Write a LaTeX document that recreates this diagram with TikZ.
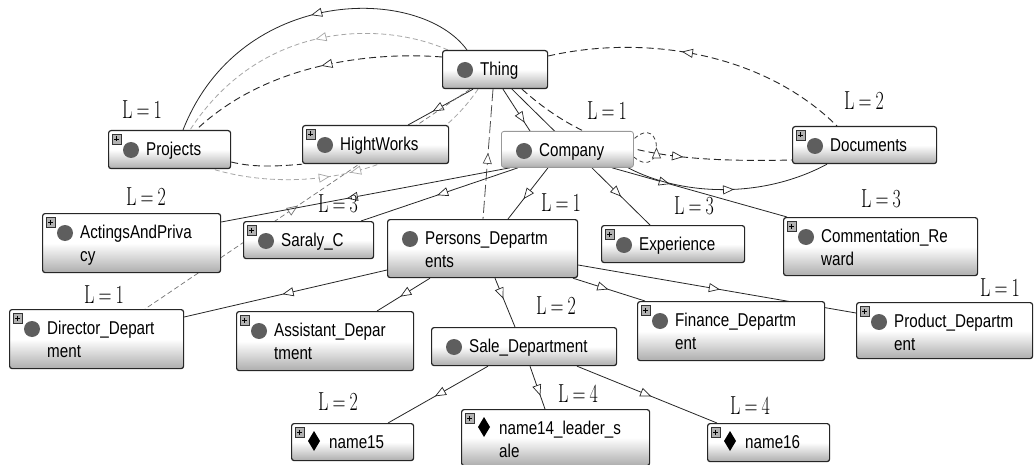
\documentclass[tikz,border=0pt]{standalone}
\usepackage{fontspec}
\usepackage{graphicx}
\newfontfamily\boxfont{Liberation Sans}
\usetikzlibrary{arrows.meta,decorations.markings,calc}
\definecolor{dotgray}{HTML}{5E5E5E}
\pgfdeclarelayer{paper}
\pgfdeclarelayer{wires}
\pgfsetlayers{paper,wires,main}

\tikzset{
  opentri/.tip={Triangle[length=11pt,width=9pt,fill=white,line width=0.7pt]},
  midtip/.style={postaction={decorate,decoration={markings,mark=at position #1 with {\arrow{opentri}}}}},
  midtipr/.style={postaction={decorate,decoration={markings,mark=at position #1 with {\arrowreversed{opentri}}}}},
  solidcon/.style={draw=black!85,line width=0.8pt},
  darkdash/.style={draw=black!85,line width=0.9pt,dash pattern=on 7pt off 4pt},
  lightdash/.style={draw=black!35,line width=0.8pt,dash pattern=on 5pt off 3pt},
  middash/.style={draw=black!55,line width=0.7pt,dash pattern=on 5pt off 3pt},
  longdash/.style={draw=black!70,line width=0.8pt,dash pattern=on 12pt off 4pt},
  loopdash/.style={draw=black!75,line width=0.8pt,dash pattern=on 4pt off 3pt},
  box/.style={rectangle,rounded corners=2.5pt,draw=black!85,line width=1.2pt,
    top color=white,bottom color=black!32,middle color=white,inner sep=0pt},
  selbox/.style={box,draw=black!40,line width=0.8pt},
  icondot/.style={circle,fill=dotgray,inner sep=0pt,minimum size=16pt},
  txt/.style={anchor=base west,inner sep=0pt,font=\boxfont\fontsize{15.2}{18}\selectfont},
  lbl/.style={inner sep=0pt,font=\fontsize{18}{18}\selectfont},
}

% class box: [style]{name}{left}{top}{width}{height}
\newcommand\boxnode[6][box]{\node[#1,minimum width=#5pt,minimum height=#6pt,anchor=north west] (#2) at (#3,#4) {};}
\newcommand\dotmark[1]{\node[icondot] (#1-icon) at ($(#1.north west)+(23,20)$) {};}
\newcommand\gemmark[1]{\fill[black] ($(#1.north west)+(23,8)$) -- ($(#1.north west)+(29,18)$)
  -- ($(#1.north west)+(23,28)$) -- ($(#1.north west)+(17,18)$) -- cycle;}
\newcommand\plusmark[1]{%
  \draw[fill=black!30,draw=black!80,line width=0.5pt] ($(#1.north west)+(4,4)$) rectangle ($(#1.north west)+(13,14)$);
  \draw[line width=0.8pt] ($(#1.north west)+(6,9)$) -- ($(#1.north west)+(11,9)$)
    ($(#1.north west)+(8.5,6.5)$) -- ($(#1.north west)+(8.5,11.5)$);}
\newcommand\lineone[2]{\node[txt] (#1-a) at ($(#1.north west)+(38,25.5)$) {\scalebox{1}[1.22]{#2}};}
\newcommand\linetwo[2]{\node[txt] (#1-b) at ($(#1.north west)+(38,48)$) {\scalebox{1}[1.22]{#2}};}
\newcommand\level[3]{\node[lbl] (#1) at (#2) {\scalebox{1}[1.45]{L\hspace{4pt}=\hspace{4pt}#3}};}

\begin{document}
\begin{tikzpicture}[x=1pt,y=-1pt]
\useasboundingbox (0,0) rectangle (1035,465);
\begin{pgfonlayer}{paper}
  \fill[white] (0,0) rectangle (1035,465);
\end{pgfonlayer}

% ---- class boxes ----
\boxnode{thing}{442}{50}{105}{38}
\boxnode{projects}{108}{130}{122}{38}
\boxnode{hight}{302}{125}{146}{38}
\boxnode[selbox]{company}{501}{131}{132}{36}
\boxnode{documents}{792}{126}{144}{37}
\boxnode{actings}{42}{213}{178}{59}
\boxnode{saraly}{243}{221}{130}{37}
\boxnode{persons}{387}{219}{190}{58}
\boxnode{experience}{601}{225}{143}{37}
\boxnode{comment}{783}{217}{194}{58}
\boxnode{director}{9}{309}{174}{59}
\boxnode{assistant}{236}{311}{177}{59}
\boxnode{sale}{431}{327}{185}{38}
\boxnode{finance}{637}{301}{187}{59}
\boxnode{product}{856}{302}{176}{56}
\boxnode{name15}{291}{423}{122}{37}
\boxnode{name14}{461}{409}{188}{56}
\boxnode{name16}{707}{423}{122}{38}

% icons, expand marks and captions
\foreach \n in {thing,projects,hight,company,documents,actings,saraly,persons,
  experience,comment,director,assistant,sale,finance,product}{\dotmark{\n}}
\foreach \n in {name15,name14,name16}{\gemmark{\n}}
\foreach \n in {projects,hight,documents,actings,saraly,experience,comment,
  director,assistant,finance,product,name15,name14,name16}{\plusmark{\n}}

\lineone{thing}{Thing}
\lineone{projects}{Projects}
\lineone{hight}{HightWorks}
\lineone{company}{Company}
\lineone{documents}{Documents}
\lineone{actings}{ActingsAndPriva}\linetwo{actings}{cy}
\lineone{saraly}{Saraly\_C}
\lineone{persons}{Persons\_Departm}\linetwo{persons}{ents}
\lineone{experience}{Experience}
\lineone{comment}{Commentation\_Re}\linetwo{comment}{ward}
\lineone{director}{Director\_Depart}\linetwo{director}{ment}
\lineone{assistant}{Assistant\_Depar}\linetwo{assistant}{tment}
\lineone{sale}{Sale\_Department}
\lineone{finance}{Finance\_Departm}\linetwo{finance}{ent}
\lineone{product}{Product\_Departm}\linetwo{product}{ent}
\lineone{name15}{name15}
\lineone{name14}{name14\_leader\_s}\linetwo{name14}{ale}
\lineone{name16}{name16}

% ---- connectors, beneath the boxes ----
\begin{pgfonlayer}{wires}
  % Thing and Projects
  \draw[solidcon,midtip=0.485] (thing.north -| 467,0) .. controls (420,-15) and (240,-15) .. (projects.north -| 183,0);
  \draw[lightdash,midtip=0.46] (thing.north -| 448,0) .. controls (380,20) and (260,22) .. (projects.north -| 190,0);
  \draw[darkdash,midtip=0.46] (thing.west |- 0,57) .. controls (380,52) and (270,60) .. (projects.north -| 196,0);
  \draw[lightdash,midtip=0.53,midtipr=0.6] (thing.south -| 478,0) .. controls (420,175) and (300,195) .. (projects.south -| 213,0);
  \draw[darkdash] (projects.east |- 0,162) .. controls (255,168) and (280,166) .. (hight.south west);
  % Thing to the classes below it
  \draw[solidcon,midtip=0.62] (thing.south -| 473,0) -- (hight.north -| 408,0);
  \draw[middash,midtipr=0.53] (thing.south -| 470,0) -- (director.north -| 145,0);
  \draw[longdash,midtipr=0.49] (thing.south -| 493,0) -- (persons.north -| 483,0);
  \draw[solidcon,midtip=0.8] (thing.south -| 503,0) -- (company.north -| 530,0);
  \draw[solidcon,midtip=0.79] (thing.south -| 512,0) -- (experience.north -| 650,0);
  \draw[darkdash,midtip=0.62] (thing.south -| 522,0) .. controls (590,150) and (660,163) .. (documents.west |- 0,160);
  \draw[darkdash,midtipr=0.435] (thing.east |- 0,56) .. controls (640,35) and (760,50) .. (documents.north -| 837,0);
  % Company
  \draw[loopdash,midtip=0.5] (company.east |- 0,157) .. controls (664,182) and (664,112) .. (company.east |- 0,139);
  \draw[solidcon,midtip=0.565] (company.south -| 510,0) -- (actings.east |- 0,222);
  \draw[solidcon,midtip=0.515] (company.south -| 518,0) -- (saraly.north -| 361,0);
  \draw[solidcon,midtip=0.61] (company.south -| 548,0) -- (persons.north -| 508,0);
  \draw[solidcon,midtip=0.33] (company.south -| 612,0) -- (comment.north -| 787,0);
  \draw[solidcon,midtip=0.53] (company.south -| 628,0) .. controls (680,195) and (760,200) .. (documents.south -| 827,0);
  % Persons_Departments
  \draw[solidcon,midtip=0.515] (persons.west |- 0,270) -- (director.east |- 0,317);
  \draw[solidcon,midtip=0.56] (persons.south -| 430,0) -- (assistant.north -| 377,0);
  \draw[solidcon,midtip=0.42] (persons.south -| 495,0) -- (sale.north -| 515,0);
  \draw[solidcon,midtip=0.49] (persons.south -| 573,0) -- (finance.north -| 645,0);
  \draw[solidcon,midtip=0.51] (persons.east |- 0,265) -- (product.west |- 0,313);
  % Sale_Department
  \draw[solidcon,midtip=0.53] (sale.south -| 488,0) -- (name15.north -| 388,0);
  \draw[solidcon,midtip=0.69] (sale.south -| 530,0) -- (name14.north -| 545,0);
  \draw[solidcon,midtip=0.53] (sale.south -| 577,0) -- (name16.north -| 717,0);
\end{pgfonlayer}

% ---- level labels ----
\level{lv-projects}{142,110}{1}
\level{lv-company}{607,111}{1}
\level{lv-documents}{864,101}{2}
\level{lv-actings}{146,197}{2}
\level{lv-saraly}{338,204}{3}
\level{lv-persons}{561,203}{1}
\level{lv-experience}{694,206}{3}
\level{lv-comment}{881,199}{3}
\level{lv-director}{104,295}{1}
\level{lv-sale}{556,306}{2}
\level{lv-product}{1000,288}{1}
\level{lv-name15}{338,402}{2}
\level{lv-name14}{578,394}{4}
\level{lv-name16}{750,406}{4}
\end{tikzpicture}
\end{document}
